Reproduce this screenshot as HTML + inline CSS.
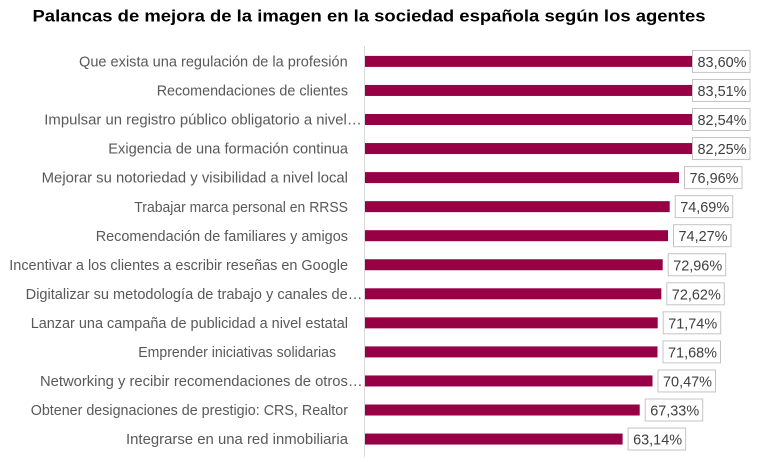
<!DOCTYPE html>
<html><head><meta charset="utf-8"><style>
html,body{margin:0;padding:0;background:#fff;}
svg{display:block;}
.lab{font-family:"Liberation Sans",sans-serif;font-size:14.5px;fill:#595959;}
.val{font-family:"Liberation Sans",sans-serif;font-size:15px;fill:#404040;}
.bar{fill:#970045;}
.box{fill:#fff;stroke:#c4c4c4;stroke-width:1;}
</style></head><body>
<svg width="768" height="462" viewBox="0 0 768 462" xmlns="http://www.w3.org/2000/svg">
<rect width="768" height="462" fill="#fff"/>
<text x="32.5" y="21.5" font-family="Liberation Sans, Arial, sans-serif" font-weight="bold" font-size="17" fill="#000" textLength="673" lengthAdjust="spacingAndGlyphs">Palancas de mejora de la imagen en la sociedad española según los agentes</text>
<line x1="364.5" y1="46" x2="364.5" y2="457" stroke="#d9d9d9" stroke-width="1"/>

<g>
<text class="lab" x="79" y="66.5" textLength="268.7" lengthAdjust="spacingAndGlyphs">Que exista una regulación de la profesión</text>
<text class="lab" x="156.7" y="95.55" textLength="191.3" lengthAdjust="spacingAndGlyphs">Recomendaciones de clientes</text>
<text class="lab" x="44.3" y="124.6" textLength="317.4" lengthAdjust="spacingAndGlyphs">Impulsar un registro público obligatorio a nivel…</text>
<text class="lab" x="108.3" y="153.65" textLength="239.7" lengthAdjust="spacingAndGlyphs">Exigencia de una formación continua</text>
<text class="lab" x="41.7" y="182.7" textLength="306.3" lengthAdjust="spacingAndGlyphs">Mejorar su notoriedad y visibilidad a nivel local</text>
<text class="lab" x="134.3" y="211.75" textLength="213.7" lengthAdjust="spacingAndGlyphs">Trabajar marca personal en RRSS</text>
<text class="lab" x="95.7" y="240.8" textLength="252.3" lengthAdjust="spacingAndGlyphs">Recomendación de familiares y amigos</text>
<text class="lab" x="9.3" y="269.85" textLength="338.7" lengthAdjust="spacingAndGlyphs">Incentivar a los clientes a escribir reseñas en Google</text>
<text class="lab" x="25.7" y="298.9" textLength="336.6" lengthAdjust="spacingAndGlyphs">Digitalizar su metodología de trabajo y canales de…</text>
<text class="lab" x="30.7" y="327.95" textLength="317.3" lengthAdjust="spacingAndGlyphs">Lanzar una campaña de publicidad a nivel estatal</text>
<text class="lab" x="138.3" y="357" textLength="197.7" lengthAdjust="spacingAndGlyphs">Emprender iniciativas solidarias</text>
<text class="lab" x="40" y="386.05" textLength="322.7" lengthAdjust="spacingAndGlyphs">Networking y recibir recomendaciones de otros…</text>
<text class="lab" x="30.7" y="415.1" textLength="317.3" lengthAdjust="spacingAndGlyphs">Obtener designaciones de prestigio: CRS, Realtor</text>
<text class="lab" x="126" y="444.15" textLength="222" lengthAdjust="spacingAndGlyphs">Integrarse en una red inmobiliaria</text>
</g>

<g>
<rect class="bar" x="365" y="55.9" width="341.1" height="11"/>
<rect class="bar" x="365" y="84.95" width="340.7" height="11"/>
<rect class="bar" x="365" y="114" width="336.8" height="11"/>
<rect class="bar" x="365" y="143.05" width="335.6" height="11"/>
<rect class="bar" x="365" y="172.1" width="314" height="11"/>
<rect class="bar" x="365" y="201.15" width="304.7" height="11"/>
<rect class="bar" x="365" y="230.2" width="303" height="11"/>
<rect class="bar" x="365" y="259.25" width="297.7" height="11"/>
<rect class="bar" x="365" y="288.3" width="296.3" height="11"/>
<rect class="bar" x="365" y="317.35" width="292.7" height="11"/>
<rect class="bar" x="365" y="346.4" width="292.5" height="11"/>
<rect class="bar" x="365" y="375.45" width="287.5" height="11"/>
<rect class="bar" x="365" y="404.5" width="274.7" height="11"/>
<rect class="bar" x="365" y="433.55" width="257.6" height="11"/>
</g>

<g>
<rect class="box" x="692.5" y="50.4" width="57.5" height="22"/>
<text class="val" x="697.5" y="66.9" textLength="49" lengthAdjust="spacingAndGlyphs">83,60%</text>
<rect class="box" x="692.5" y="79.45" width="57.5" height="22"/>
<text class="val" x="697.5" y="95.95" textLength="49" lengthAdjust="spacingAndGlyphs">83,51%</text>
<rect class="box" x="692.5" y="108.5" width="57.5" height="22"/>
<text class="val" x="697.5" y="125" textLength="49" lengthAdjust="spacingAndGlyphs">82,54%</text>
<rect class="box" x="692.5" y="137.55" width="57.5" height="22"/>
<text class="val" x="697.5" y="154.05" textLength="49" lengthAdjust="spacingAndGlyphs">82,25%</text>
<rect class="box" x="684.5" y="166.6" width="57.5" height="22"/>
<text class="val" x="689.5" y="183.1" textLength="49" lengthAdjust="spacingAndGlyphs">76,96%</text>
<rect class="box" x="675.2" y="195.65" width="57.5" height="22"/>
<text class="val" x="680.2" y="212.15" textLength="49" lengthAdjust="spacingAndGlyphs">74,69%</text>
<rect class="box" x="673.5" y="224.7" width="57.5" height="22"/>
<text class="val" x="678.5" y="241.2" textLength="49" lengthAdjust="spacingAndGlyphs">74,27%</text>
<rect class="box" x="668.2" y="253.75" width="57.5" height="22"/>
<text class="val" x="673.2" y="270.25" textLength="49" lengthAdjust="spacingAndGlyphs">72,96%</text>
<rect class="box" x="666.8" y="282.8" width="57.5" height="22"/>
<text class="val" x="671.8" y="299.3" textLength="49" lengthAdjust="spacingAndGlyphs">72,62%</text>
<rect class="box" x="663.2" y="311.85" width="57.5" height="22"/>
<text class="val" x="668.2" y="328.35" textLength="49" lengthAdjust="spacingAndGlyphs">71,74%</text>
<rect class="box" x="663" y="340.9" width="57.5" height="22"/>
<text class="val" x="668" y="357.4" textLength="49" lengthAdjust="spacingAndGlyphs">71,68%</text>
<rect class="box" x="658" y="369.95" width="57.5" height="22"/>
<text class="val" x="663" y="386.45" textLength="49" lengthAdjust="spacingAndGlyphs">70,47%</text>
<rect class="box" x="645.2" y="399" width="57.5" height="22"/>
<text class="val" x="650.2" y="415.5" textLength="49" lengthAdjust="spacingAndGlyphs">67,33%</text>
<rect class="box" x="628.1" y="428.05" width="57.5" height="22"/>
<text class="val" x="633.1" y="444.55" textLength="49" lengthAdjust="spacingAndGlyphs">63,14%</text>
</g>
</svg>
</body></html>
